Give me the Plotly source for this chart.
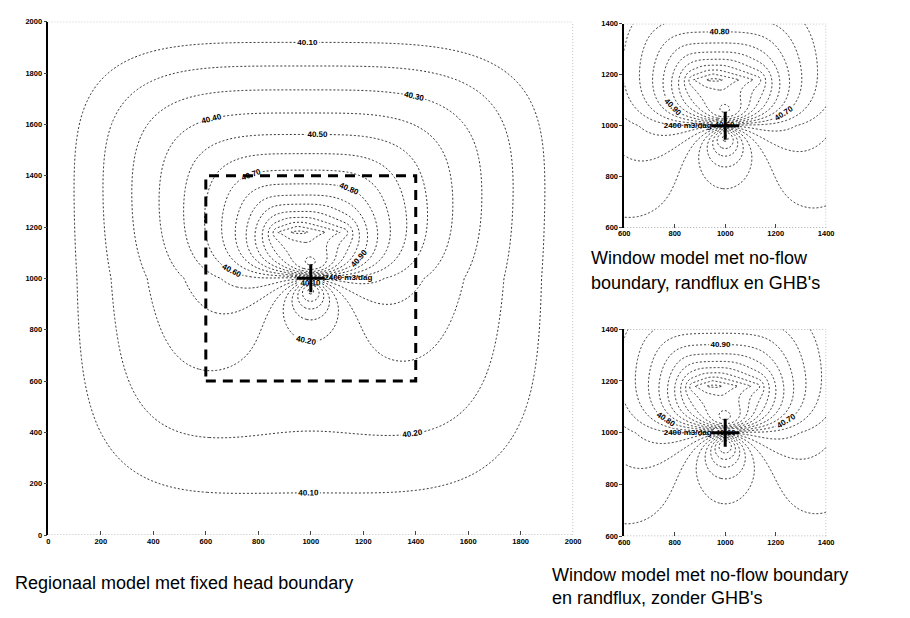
import numpy as np
import plotly.graph_objects as go

# ---- model data -------------------------------------------------------
boundary_head = 40.0            # fixed head on the regional boundary (m)
domain_size = 2000              # regional model extent (m)
window_range = [600, 1400]      # extent of the window model (m)
well_xy = [1000, 1000]          # abstraction well
well_rate = 2400                # m3/dag

regional_ticks = [0, 200, 400, 600, 800, 1000, 1200, 1400, 1600, 1800, 2000]
window_ticks = [600, 800, 1000, 1200, 1400]

# head-field parameters per model: regional / window with GHB / window without GHB
regional_rise = [0.68, 0.68, 0.68]
mound_height = [0.6, 0.6, 0.65]
drawdown = [0.3, 0.3, 0.3]
dipole_strength = [90, 90, 100]
rise_centre = [950, 1200]
rise_power = 0.88
mound_axis = [1000, 1180]       # centre line of the elongated mound above the well
mound_half_length = 130
mound_scale = 100
drawdown_scale = 300
dipole_stretch = [0.3, 1.0]     # above / below the well
dipole_core = 50

# contour bands: (first level, last level, labelled)
regional_bands = [(39.0, 40.0, False), (40.1, 40.9, True), (41.0, 42.5, False)]
window_bands = [(39.0, 40.5, False), (40.6, 40.9, True), (41.0, 42.5, False)]
level_step = 0.1
cone_zone = 450                 # levels at or below the boundary head only occur near the well


def head_field(xs, ys, k):
    X, Y = np.meshgrid(xs, ys)
    xc, yc = rise_centre
    u = np.where(X < xc, (xc - X) / xc, (X - xc) / (domain_size - xc))
    v = np.where(Y < yc, (yc - Y) / yc, (Y - yc) / (domain_size - yc))
    rho = (u ** 4 + v ** 4) ** 0.25
    shape = np.clip(1 - rho, 0, None)
    dxs = np.maximum(np.abs(X - mound_axis[0]) - mound_half_length, 0)
    q = np.hypot(dxs, Y - mound_axis[1])
    mound = mound_height[k] / (1 + q / mound_scale)
    dx, dy = X - well_xy[0], Y - well_xy[1]
    r = np.hypot(dx, dy)
    cone = drawdown[k] / (1 + r / drawdown_scale)
    stretch = np.where(dy > 0, dipole_stretch[0], dipole_stretch[1])
    dipole = dipole_strength[k] * dy / (stretch * dx ** 2 + dy ** 2 + dipole_core ** 2)
    z = (boundary_head + regional_rise[k] * shape ** rise_power
         + shape * (mound - cone + dipole))
    return z, r


LINE = dict(color="#1a1a1a", width=0.9, dash="2px,2px")
BLACK = [[0, "#1a1a1a"], [1, "#1a1a1a"]]
LABEL_FONT = dict(size=8, color="black", family="Arial", weight="bold")


def contour_traces(xs, ys, z, r, xa, ya, bands):
    out = []
    for lo, hi, lab in bands:
        zz = np.where(r < cone_zone, z, np.nan) if hi <= boundary_head else z
        out.append(go.Contour(
            x=xs, y=ys, z=np.round(zz, 4), xaxis=xa, yaxis=ya,
            colorscale=BLACK, showscale=False, hoverinfo="skip",
            line=LINE,
            contours=dict(start=lo, end=hi, size=level_step,
                          coloring="lines", showlabels=lab,
                          labelfont=LABEL_FONT, labelformat=".2f"),
        ))
    return out


fig = go.Figure()

xs_r = np.linspace(0, domain_size, 301)
z_r, r_r = head_field(xs_r, xs_r, 0)
for t in contour_traces(xs_r, xs_r, z_r, r_r, "x", "y", regional_bands):
    fig.add_trace(t)

xs_w = np.linspace(window_range[0], window_range[1], 241)
for k, (xa, ya) in enumerate([("x2", "y2"), ("x3", "y3")], start=1):
    z_w, r_w = head_field(xs_w, xs_w, k)
    for t in contour_traces(xs_w, xs_w, z_w, r_w, xa, ya, window_bands):
        fig.add_trace(t)

# wells with their pumping rate
rate_text = f"{well_rate} m3/dag"
for xa, ya, pos in [("x", "y", "middle right"), ("x2", "y2", "middle left"),
                    ("x3", "y3", "middle left")]:
    fig.add_trace(go.Scatter(
        x=[well_xy[0]], y=[well_xy[1]], xaxis=xa, yaxis=ya,
        mode="markers+text", text=[rate_text], textposition=pos,
        textfont=LABEL_FONT,
        marker=dict(symbol="cross-thin", size=20,
                    line=dict(width=3, color="black")),
        showlegend=False, hoverinfo="skip"))

# window outline inside the regional model
fig.add_shape(type="rect", xref="x", yref="y",
              x0=window_range[0], x1=window_range[1],
              y0=window_range[0], y1=window_range[1],
              line=dict(color="black", width=3, dash="10px,7px"))

# frame lines (dotted bottom / right / top, solid left axis)
for xr, yr, lo, hi in [("x", "y", 0, domain_size),
                       ("x2", "y2", *window_range),
                       ("x3", "y3", *window_range)]:
    for x0, y0, x1, y1 in [(lo, lo, hi, lo), (hi, lo, hi, hi), (lo, hi, hi, hi)]:
        fig.add_shape(type="line", xref=xr, yref=yr, x0=x0, y0=y0, x1=x1, y1=y1,
                      line=dict(color="#777", width=1, dash="1px,2px"))

tickfont = dict(size=7.5, color="black", family="Arial", weight="bold")
common_x = dict(showgrid=False, zeroline=False, ticks="inside", ticklen=4,
                tickcolor="#444", tickfont=tickfont, showline=False)
common_y = dict(showgrid=False, zeroline=False, ticks="outside", ticklen=3,
                tickcolor="#444", tickfont=tickfont, showline=True,
                linecolor="black", linewidth=1.5)

fig.update_layout(
    width=910, height=618, margin=dict(l=0, r=0, t=0, b=0),
    paper_bgcolor="white", plot_bgcolor="white", showlegend=False,
    xaxis=dict(domain=[0.0473, 0.633], range=[0, domain_size],
               tickvals=regional_ticks, anchor="y", **common_x),
    yaxis=dict(domain=[0.128, 0.971], range=[0, domain_size],
               tickvals=regional_ticks, anchor="x", **common_y),
    xaxis2=dict(domain=[0.690, 0.9154], range=window_range,
                tickvals=window_ticks, anchor="y2", **common_x),
    yaxis2=dict(domain=[0.6327, 0.9676], range=window_range,
                tickvals=window_ticks, anchor="x2", **common_y),
    xaxis3=dict(domain=[0.690, 0.9154], range=window_range,
                tickvals=window_ticks, anchor="y3", **common_x),
    yaxis3=dict(domain=[0.1262, 0.466], range=window_range,
                tickvals=window_ticks, anchor="x3", **common_y),
)

title_font = dict(size=18, color="black", family="Arial")
for text, x, y in [
    ("Regionaal model met fixed head boundary", 7, 588),
    ("Window model met no-flow", 592, 258),
    ("boundary, randflux en GHB's", 592, 283),
    ("Window model met no-flow boundary", 553, 579),
    ("en randflux, zonder GHB's", 553, 603),
]:
    fig.add_annotation(text=text, xref="paper", yref="paper",
                       x=x / 910, y=1 - y / 618, xanchor="left",
                       yanchor="middle", showarrow=False, font=title_font)

fig.write_html("out.html")
